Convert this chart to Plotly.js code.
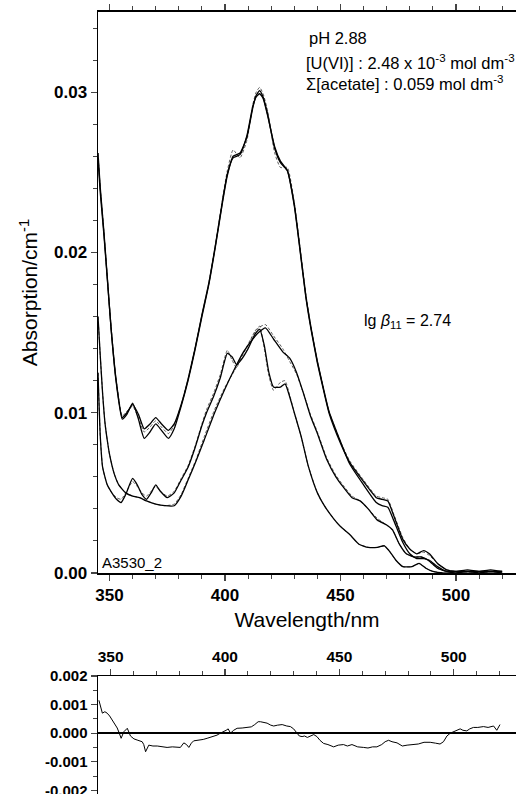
<!DOCTYPE html>
<html>
<head>
<meta charset="utf-8">
<script src="https://cdn.plot.ly/plotly-3.0.1.min.js"></script>
<style>html,body{margin:0;padding:0;background:#fff;}#chart{width:516px;height:794px;}</style>
</head>
<body>
<div id="chart"></div>
<script>
// ---- Data ----
const wlAB = [345,346,347.5,349,350.7,352.8,355.5,357.5,360,362.5,365,367.5,370,372.5,375.5,378,381,384,387,390,393,396,399,401,403.5,406.5,409.5,412,413.5,415,416.5,418.5,421.5,424,427,430,432.5,435,437.5,440,442.5,445,450,454,460,465.5,468,470.5,473,477,480,483,486,488.5,492,496,500,505,510,515,520];
const specA = [0.0262,0.0240,0.0214,0.0185,0.0152,0.0120,0.0096,0.0099,0.0106,0.0096,0.0084,0.0088,0.0093,0.0089,0.0084,0.0090,0.0104,0.0120,0.0139,0.0160,0.0180,0.0205,0.0232,0.0248,0.0260,0.0262,0.0272,0.0290,0.0298,0.0301,0.0297,0.0286,0.0265,0.0256,0.0251,0.0229,0.0201,0.0172,0.0150,0.0131,0.0115,0.0100,0.0081,0.0069,0.0057,0.0047,0.0046,0.0045,0.0036,0.0021,0.0015,0.0012,0.0014,0.0012,0.0006,0.0002,0.0001,0.0002,0.0001,0.0002,0.0001];
const specB = [0.0258,0.0237,0.0212,0.0184,0.0152,0.0121,0.0097,0.0100,0.0105,0.0099,0.0090,0.0093,0.0097,0.0093,0.0089,0.0093,0.0105,0.0121,0.0140,0.0161,0.0181,0.0206,0.0233,0.0249,0.0259,0.0261,0.0273,0.0291,0.0297,0.0299,0.0296,0.0285,0.0266,0.0257,0.0251,0.0230,0.0202,0.0173,0.0151,0.0132,0.0116,0.0101,0.0082,0.0068,0.0055,0.0044,0.0042,0.0041,0.0033,0.0019,0.0012,0.0009,0.0009,0.0008,0.0004,0.0001,0.0001,0.0001,0.0001,0.0001,0.0001];
const fitA  = [0.0262,0.0240,0.0214,0.0185,0.0153,0.0121,0.0098,0.0101,0.0104,0.0097,0.0088,0.0091,0.0095,0.0091,0.0087,0.0092,0.0105,0.0121,0.0140,0.0161,0.0181,0.0206,0.0234,0.0251,0.0264,0.0259,0.0270,0.0292,0.0300,0.0303,0.0299,0.0288,0.0262,0.0253,0.0253,0.0231,0.0203,0.0174,0.0151,0.0132,0.0116,0.0101,0.0082,0.0070,0.0058,0.0048,0.0047,0.0046,0.0037,0.0022,0.0015,0.0012,0.0013,0.0011,0.0006,0.0002,0.0001,0.0001,0.0001,0.0001,0.0001];

const wlD = [345,346,347,348,349,350,352,354,357,360,363,366,370,374,378,381,384,387.5,391,395.5,400,404,408,411.5,414.5,417.5,421,425,428,431,434,437,440,444,448,451,455,458.5,462,466,470,472.5,475.5,478.5,482,485,488,492,496,500,505,510,515,520];
const specD = [0.0160,0.0135,0.0112,0.0094,0.0083,0.0074,0.0062,0.0055,0.0050,0.0048,0.0047,0.0045,0.0043,0.0042,0.0042,0.0048,0.0058,0.0070,0.0083,0.0100,0.0115,0.0127,0.0138,0.0145,0.0150,0.0153,0.0146,0.0138,0.0134,0.0125,0.0112,0.0098,0.0087,0.0071,0.0060,0.0054,0.0047,0.0045,0.0040,0.0033,0.0030,0.0027,0.0018,0.0012,0.0010,0.0010,0.0008,0.0003,0.0001,0.0000,0.0001,0.0000,0.0001,0.0000];
const fitD  = [0.0160,0.0135,0.0112,0.0094,0.0083,0.0074,0.0062,0.0055,0.0050,0.0048,0.0047,0.0045,0.0043,0.0042,0.0043,0.0049,0.0059,0.0071,0.0085,0.0102,0.0116,0.0126,0.0137,0.0147,0.0153,0.0155,0.0148,0.0140,0.0132,0.0124,0.0112,0.0099,0.0088,0.0072,0.0061,0.0055,0.0048,0.0045,0.0040,0.0034,0.0030,0.0027,0.0018,0.0012,0.0010,0.0010,0.0008,0.0003,0.0001,0.0000,0.0001,0.0000,0.0001,0.0000];

const wlE = [345,346,347,349,351,353,355,357,360,362,364,366,368,370,372,375,378,381,384,387,390,392,395,398,401,403,405,407,410,413,415,417,419,421,424,426,428,430,433,436,440,443,447,450,454,458,462,466,469,471,474,477,481,484,487,490,495,500,505,510,515,520];
const specE = [0.0125,0.0085,0.0066,0.0055,0.0050,0.0046,0.0044,0.0049,0.0059,0.0055,0.0049,0.0046,0.0050,0.0055,0.0051,0.0047,0.0050,0.0058,0.0066,0.0078,0.0092,0.0100,0.0110,0.0122,0.0137,0.0135,0.0130,0.0133,0.0140,0.0149,0.0152,0.0142,0.0125,0.0116,0.0116,0.0118,0.0110,0.0100,0.0085,0.0067,0.0050,0.0042,0.0034,0.0029,0.0024,0.0018,0.0016,0.0016,0.0017,0.0014,0.0008,0.0004,0.0004,0.0006,0.0003,0.0001,0.0000,0.0000,0.0000,0.0000,0.0000,0.0000];
const fitE  = [0.0125,0.0085,0.0066,0.0055,0.0050,0.0047,0.0046,0.0050,0.0057,0.0054,0.0050,0.0048,0.0051,0.0054,0.0051,0.0048,0.0051,0.0059,0.0067,0.0079,0.0093,0.0102,0.0112,0.0124,0.0139,0.0133,0.0128,0.0135,0.0142,0.0151,0.0154,0.0140,0.0123,0.0114,0.0119,0.0120,0.0111,0.0100,0.0085,0.0067,0.0050,0.0042,0.0034,0.0029,0.0024,0.0018,0.0016,0.0016,0.0017,0.0014,0.0008,0.0004,0.0004,0.0006,0.0003,0.0001,0.0000,0.0000,0.0000,0.0000,0.0000,0.0000];

const wlRes = [344.9,345.6,346.4,347.5,348.5,349.6,350.7,351.8,352.9,353.8,354.6,355.8,357.3,358.7,360.2,361.6,362.8,363.8,364.5,365.3,366.7,368.5,370.4,372.5,374.7,377,379,380.5,382,383.2,384.2,385.3,386.3,388.5,390.5,392.2,394.5,396.5,398,399.5,400.5,401.4,402.4,403.8,405.3,407.5,409.7,411.5,413,414.5,415.5,417,418.4,420,421.3,423,425,427,428.6,430,431.5,432.5,433.7,434.8,436,437.5,438.8,440.2,441.5,443.1,445,447.5,449.5,451.8,453.5,455.5,458,460.6,462.5,464.5,466.4,468.5,470,471.5,473,475.2,477.5,479.6,482,484.5,487,489.7,492,494,495.5,497,498.5,499.9,501.5,502.8,504,505.7,507,508.6,510.5,513,515,517.4,518.8,520.2];
const residual = [0.00115,0.0009,0.0007,0.00075,0.0007,0.0006,0.00045,0.0003,0.00018,0.0,-0.00018,0.00005,0.00017,-0.0001,-0.0002,-0.00024,-0.00028,-0.0003,-0.0004,-0.00065,-0.00042,-0.00045,-0.00045,-0.00048,-0.0005,-0.00048,-0.0005,-0.0005,-0.00034,-0.0004,-0.0005,-0.00035,-0.00027,-0.00025,-0.00022,-0.00018,-0.00012,-0.00007,0.0,0.00005,0.0001,0.00015,0.0,0.0001,0.00017,0.00018,0.0002,0.00022,0.0003,0.0004,0.0004,0.00038,0.00035,0.00028,0.00025,0.00028,0.0003,0.00025,0.00023,0.00015,0.0,-0.0001,-0.00012,-0.0001,-0.00015,-0.0001,-0.00005,-0.00012,-0.00025,-0.00036,-0.0004,-0.00048,-0.00042,-0.0004,-0.00045,-0.0004,-0.00048,-0.0005,-0.00052,-0.00048,-0.00048,-0.0004,-0.0003,-0.00025,-0.0003,-0.00034,-0.00045,-0.00042,-0.0004,-0.00038,-0.00032,-0.00032,-0.00035,-0.00038,-0.0003,-0.0001,0.0,0.00005,0.0001,0.00015,0.0001,0.00008,0.00015,0.0002,0.0002,0.00023,0.0002,0.00025,0.0001,0.0003];

const mainYTicks = [0, 0.01, 0.02, 0.03];
const resYTicks = [-0.002, -0.001, 0, 0.001, 0.002];
const resYTickText = ['-0.002', '-0.001', '0.000', '0.001', '0.002'];

// ---- Traces ----
const FONT = 'Liberation Sans, Arial, Helvetica, sans-serif';
function solid(x, y) {
  return {x: x, y: y, type: 'scatter', mode: 'lines', xaxis: 'x', yaxis: 'y',
          line: {color: '#000', width: 1.3, shape: 'spline', smoothing: 0.5}, hoverinfo: 'skip'};
}
function dashed(x, y) {
  return {x: x, y: y, type: 'scatter', mode: 'lines', xaxis: 'x', yaxis: 'y',
          line: {color: '#333', width: 0.8, dash: '3px,2px', shape: 'spline', smoothing: 0.5}, hoverinfo: 'skip'};
}
const traces = [
  dashed(wlAB, fitA), dashed(wlD, fitD), dashed(wlE, fitE),
  solid(wlAB, specA), solid(wlAB, specB), solid(wlD, specD), solid(wlE, specE),
  {x: wlRes, y: residual, type: 'scatter', mode: 'lines', xaxis: 'x2', yaxis: 'y2',
   line: {color: '#000', width: 1}, hoverinfo: 'skip'}
];

const tickBold = {family: FONT, size: 17, color: '#000', weight: 'bold'};
const annFont = {family: FONT, size: 16.5, color: '#000'};
const layout = {
  width: 516, height: 794,
  margin: {l: 98, r: 0, t: 0, b: 0},
  paper_bgcolor: '#fff', plot_bgcolor: '#fff',
  showlegend: false,
  font: {family: FONT, color: '#000'},
  xaxis: {
    domain: [0, 1], anchor: 'y', range: [345, 526],
    tick0: 350, dtick: 50, ticks: 'outside', ticklen: 6, tickwidth: 1.2,
    minor: {dtick: 10, ticks: 'outside', ticklen: 4, tickwidth: 1},
    showline: true, linewidth: 1.5, linecolor: '#000', mirror: 'ticks',
    showgrid: false, zeroline: false, tickfont: tickBold,
    title: {text: 'Wavelength/nm', font: {family: FONT, size: 21, color: '#000'}, standoff: 8}
  },
  yaxis: {
    domain: [0.2783, 0.9849], anchor: 'x', range: [0, 0.035],
    tickvals: mainYTicks, tickformat: '.2f', ticks: 'outside', ticklen: 6, tickwidth: 1.2,
    minor: {dtick: 0.002, ticks: 'outside', ticklen: 4, tickwidth: 1},
    showline: true, linewidth: 1.5, linecolor: '#000',
    showgrid: false, zeroline: false, tickfont: tickBold,
    title: {text: 'Absorption/cm<sup>-1</sup>', font: {family: FONT, size: 21, color: '#000'}, standoff: 10}
  },
  xaxis2: {
    domain: [0, 1], anchor: 'y2', side: 'top', range: [344.5, 527.2],
    tick0: 350, dtick: 50, ticks: 'outside', ticklen: 6, tickwidth: 1.2,
    minor: {dtick: 10, ticks: 'outside', ticklen: 4, tickwidth: 1},
    showline: true, linewidth: 1.5, linecolor: '#000',
    showgrid: false, zeroline: false,
    tickfont: {family: FONT, size: 15.5, color: '#000', weight: 'bold'}
  },
  yaxis2: {
    domain: [0, 0.1486], anchor: 'x2', range: [-0.00213, 0.002],
    tickvals: resYTicks, ticktext: resYTickText, ticks: 'outside', ticklen: 6, tickwidth: 1.2,
    ticklabeloverflow: 'allow',
    minor: {tickvals: [-0.0015, -0.0005, 0.0005, 0.0015], ticks: 'outside', ticklen: 4, tickwidth: 1},
    showline: true, linewidth: 1.5, linecolor: '#000',
    showgrid: false, zeroline: true, zerolinecolor: '#000', zerolinewidth: 1.8,
    tickfont: {family: FONT, size: 15, color: '#000', weight: 'bold'}
  },
  annotations: [
    {text: 'pH 2.88', xref: 'paper', yref: 'paper', x: 0.5, y: 0.952, xanchor: 'left', yanchor: 'middle', showarrow: false, font: annFont},
    {text: '[U(VI)] : 2.48 x 10<sup>-3</sup> mol dm<sup>-3</sup>', xref: 'paper', yref: 'paper', x: 0.493, y: 0.922, xanchor: 'left', yanchor: 'middle', showarrow: false, font: annFont},
    {text: 'Σ[acetate] : 0.059 mol dm<sup>-3</sup>', xref: 'paper', yref: 'paper', x: 0.493, y: 0.8955, xanchor: 'left', yanchor: 'middle', showarrow: false, font: annFont},
    {text: 'lg <i>β</i><sub>11</sub> = 2.74', xref: 'paper', yref: 'paper', x: 0.632, y: 0.5945, xanchor: 'left', yanchor: 'middle', showarrow: false, font: {family: FONT, size: 16, color: '#000'}},
    {text: 'A3530_2', xref: 'paper', yref: 'paper', x: 0.004, y: 0.291, xanchor: 'left', yanchor: 'middle', showarrow: false, font: {family: FONT, size: 15, color: '#000'}}
  ]
};

Plotly.newPlot('chart', traces, layout, {staticPlot: true, displayModeBar: false});
</script>
</body>
</html>
